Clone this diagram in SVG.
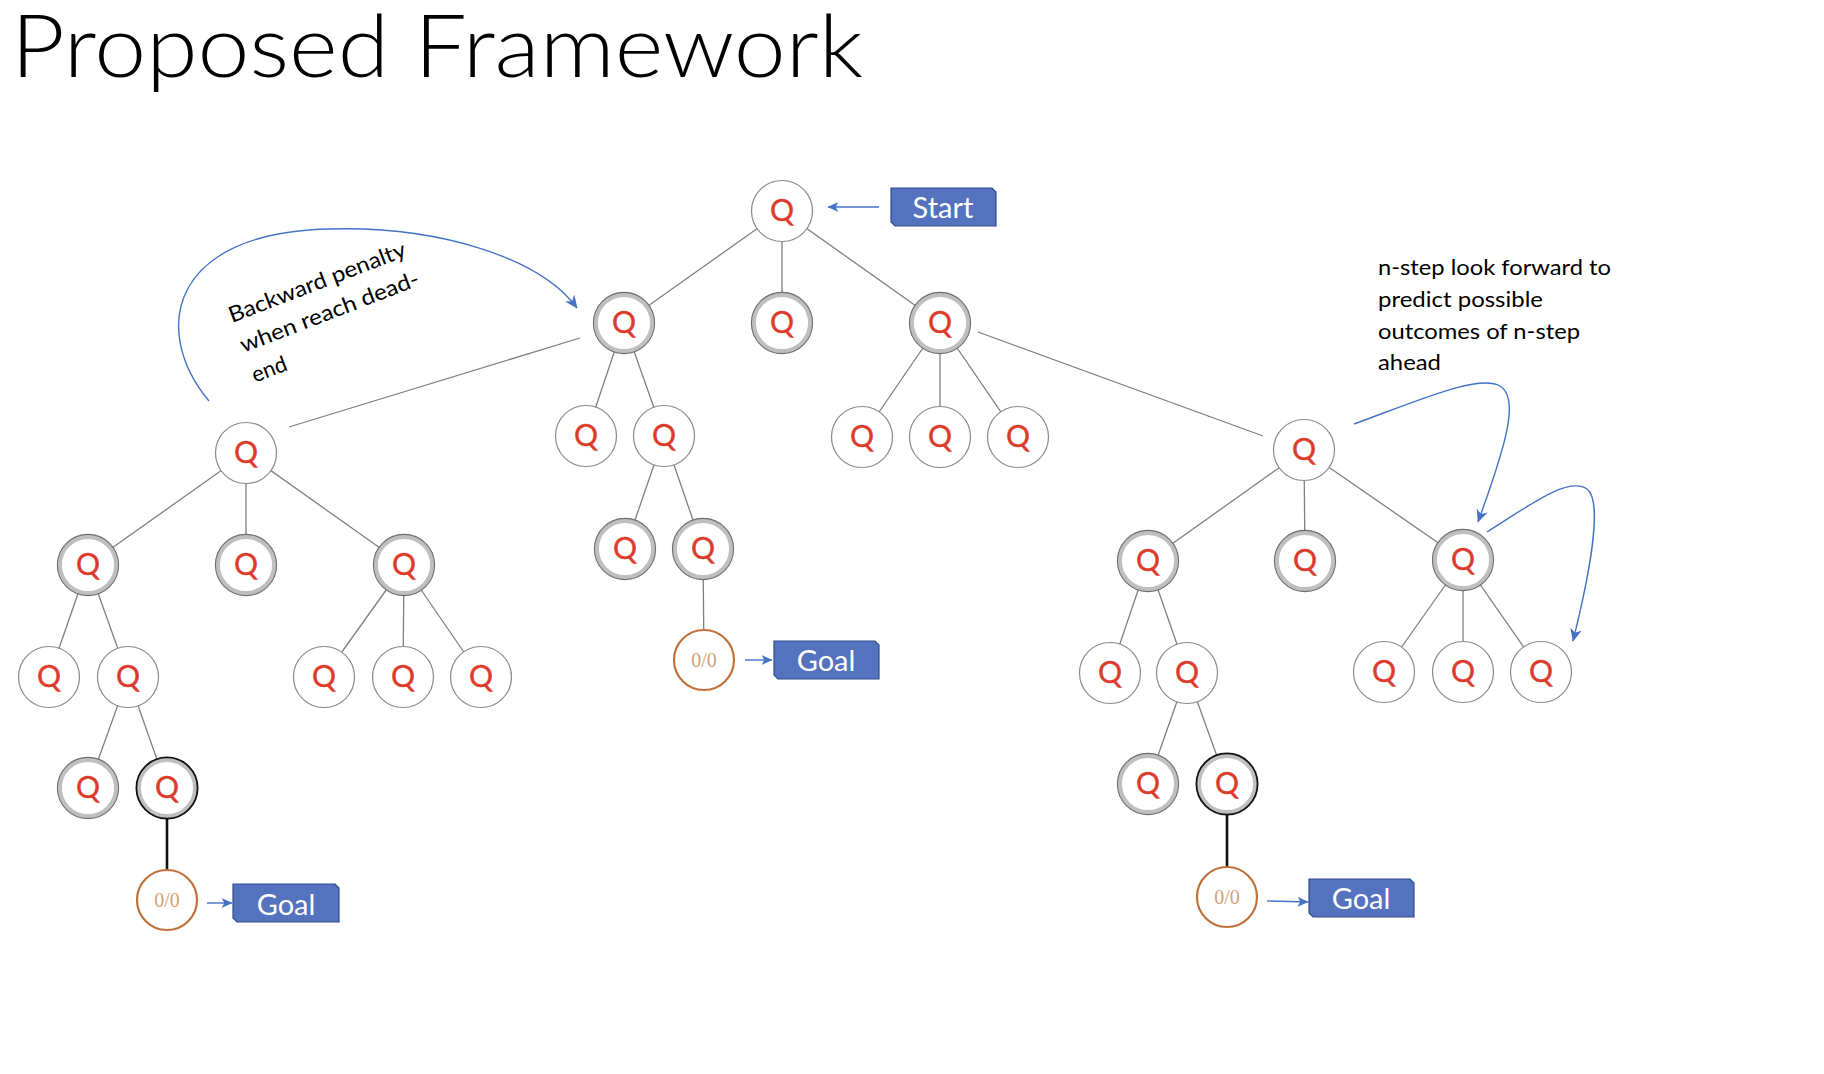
<svg xmlns="http://www.w3.org/2000/svg" width="1824" height="1074" viewBox="0 0 1824 1074">
<defs>
<style>
.edge{stroke:#7f7f7f;stroke-width:1.3;fill:none}
.bedge{stroke:#111;stroke-width:2.6;fill:none}
.blue{stroke:#4472c4;stroke-width:1.4;fill:none}
.plain{fill:#fff;stroke:#8a8a8a;stroke-width:1.2}
.band{fill:#fff;stroke:#bfbfbf;stroke-width:4.5}
.outer{fill:none;stroke:#6e6e6e;stroke-width:1.1}
.outerb{fill:none;stroke:#111;stroke-width:1.8}
.q{font-family:Lato,"Liberation Sans",sans-serif;font-size:30px;fill:#dc3b2c;text-anchor:middle;stroke:#dc3b2c;stroke-width:0.4}
.zc{fill:#fff;stroke:#c0703a;stroke-width:2.2}
.zt{font-family:"Liberation Serif",serif;font-size:20px;fill:#d2a07c;text-anchor:middle}
.box{fill:#5472be;stroke:#2f4d8c;stroke-width:1.2}
.bt{font-family:Lato,"Liberation Sans",sans-serif;font-size:29px;fill:#fff;text-anchor:middle}
.note{font-family:Lato,"Liberation Sans",sans-serif;font-size:22px;fill:#000}
</style>
<marker id="ah" viewBox="0 0 10 10" refX="9.5" refY="5" markerWidth="11" markerHeight="11" markerUnits="userSpaceOnUse" orient="auto">
<path d="M0,0.5 L10,5 L0,9.5 L2.5,5 Z" fill="#4472c4"/>
</marker>
<marker id="ah2" viewBox="0 0 10 10" refX="9.5" refY="5" markerWidth="13" markerHeight="13" markerUnits="userSpaceOnUse" orient="auto">
<path d="M0,0.5 L10,5 L0,9.5 L3,5 Z" fill="#4472c4"/>
</marker>
</defs>
<rect width="1824" height="1074" fill="#fff"/>
<text x="11" y="77" font-family="Lato,'Liberation Sans',sans-serif" font-weight="300" font-size="87" fill="#000" textLength="852" lengthAdjust="spacingAndGlyphs">Proposed Framework</text>

<g id="connectors">
<line class="edge" x1="782" y1="211" x2="624" y2="323"/>
<line class="edge" x1="782" y1="211" x2="782" y2="323"/>
<line class="edge" x1="782" y1="211" x2="940" y2="323"/>
<line class="edge" x1="624" y1="323" x2="586" y2="436"/>
<line class="edge" x1="624" y1="323" x2="664" y2="436"/>
<line class="edge" x1="664" y1="436" x2="625" y2="549"/>
<line class="edge" x1="664" y1="436" x2="703" y2="549"/>
<line class="edge" x1="703" y1="549" x2="704" y2="660"/>
<line class="edge" x1="940" y1="323" x2="862" y2="437"/>
<line class="edge" x1="940" y1="323" x2="940" y2="437"/>
<line class="edge" x1="940" y1="323" x2="1018" y2="437"/>
<line class="edge" x1="580" y1="338" x2="289" y2="427"/>
<line class="edge" x1="978" y1="332" x2="1263" y2="436"/>
<line class="edge" x1="246" y1="453" x2="88" y2="565"/>
<line class="edge" x1="246" y1="453" x2="246" y2="565"/>
<line class="edge" x1="246" y1="453" x2="404" y2="565"/>
<line class="edge" x1="88" y1="565" x2="49" y2="677"/>
<line class="edge" x1="88" y1="565" x2="128" y2="677"/>
<line class="edge" x1="128" y1="677" x2="88" y2="788"/>
<line class="edge" x1="128" y1="677" x2="167" y2="788"/>
<line class="bedge" x1="167" y1="788" x2="167" y2="900"/>
<line class="edge" x1="404" y1="565" x2="324" y2="677"/>
<line class="edge" x1="404" y1="565" x2="403" y2="677"/>
<line class="edge" x1="404" y1="565" x2="481" y2="677"/>
<line class="edge" x1="1304" y1="450" x2="1148" y2="561"/>
<line class="edge" x1="1304" y1="450" x2="1305" y2="561"/>
<line class="edge" x1="1304" y1="450" x2="1463" y2="560"/>
<line class="edge" x1="1148" y1="561" x2="1110" y2="673"/>
<line class="edge" x1="1148" y1="561" x2="1187" y2="673"/>
<line class="edge" x1="1187" y1="673" x2="1148" y2="784"/>
<line class="edge" x1="1187" y1="673" x2="1227" y2="784"/>
<line class="bedge" x1="1227" y1="784" x2="1227" y2="897"/>
<line class="edge" x1="1463" y1="560" x2="1384" y2="672"/>
<line class="edge" x1="1463" y1="560" x2="1463" y2="672"/>
<line class="edge" x1="1463" y1="560" x2="1541" y2="672"/>
<line class="blue" x1="879" y1="207" x2="828" y2="207" marker-end="url(#ah)"/>
<line class="blue" x1="745" y1="660" x2="772" y2="660" marker-end="url(#ah)"/>
<line class="blue" x1="207" y1="903" x2="232" y2="903" marker-end="url(#ah)"/>
<line class="blue" x1="1267" y1="901" x2="1308" y2="902" marker-end="url(#ah)"/>
<path class="blue" d="M209,401 C150,330 170,232 330,229 C440,226 540,258 577,308" marker-end="url(#ah2)"/>
<path class="blue" d="M1354,424 C1420,400 1478,374 1500,386 C1520,398 1506,445 1478,522" marker-end="url(#ah2)"/>
<path class="blue" d="M1487,532 C1530,505 1568,476 1587,489 C1602,500 1592,565 1573,641" marker-end="url(#ah2)"/>
</g>

<g id="root"><circle class="plain" cx="782" cy="211" r="30.5"/><text class="q" x="782" y="221">Q</text></g>
<g id="a"><circle class="band" cx="624" cy="323" r="28.3"/><circle class="outer" cx="624" cy="323" r="30.6"/><text class="q" x="624" y="333">Q</text></g>
<g id="b"><circle class="band" cx="782" cy="323" r="28.3"/><circle class="outer" cx="782" cy="323" r="30.6"/><text class="q" x="782" y="333">Q</text></g>
<g id="c"><circle class="band" cx="940" cy="323" r="28.3"/><circle class="outer" cx="940" cy="323" r="30.6"/><text class="q" x="940" y="333">Q</text></g>

<g id="a1"><circle class="plain" cx="586" cy="436" r="30.5"/><text class="q" x="586" y="446">Q</text></g>
<g id="a2"><circle class="plain" cx="664" cy="436" r="30.5"/><text class="q" x="664" y="446">Q</text></g>
<g id="a21"><circle class="band" cx="625" cy="549" r="28.3"/><circle class="outer" cx="625" cy="549" r="30.6"/><text class="q" x="625" y="559">Q</text></g>
<g id="a22"><circle class="band" cx="703" cy="549" r="28.3"/><circle class="outer" cx="703" cy="549" r="30.6"/><text class="q" x="703" y="559">Q</text></g>
<g id="goalnode-mid"><circle class="zc" cx="704" cy="660" r="30"/><text class="zt" x="704" y="667">0/0</text></g>
<g id="goal-mid"><path class="box" d="M774,641 H875 L879,645 V679 H778 L774,675 Z"/><text class="bt" x="826" y="671">Goal</text></g>

<g id="c1"><circle class="plain" cx="862" cy="437" r="30.5"/><text class="q" x="862" y="447">Q</text></g>
<g id="c2"><circle class="plain" cx="940" cy="437" r="30.5"/><text class="q" x="940" y="447">Q</text></g>
<g id="c3"><circle class="plain" cx="1018" cy="437" r="30.5"/><text class="q" x="1018" y="447">Q</text></g>

<g id="start"><path class="box" d="M891,188 H992 L996,192 V226 H895 L891,222 Z"/><text class="bt" x="943" y="218">Start</text></g>

<g id="l"><circle class="plain" cx="246" cy="453" r="30.5"/><text class="q" x="246" y="463">Q</text></g>
<g id="l1"><circle class="band" cx="88" cy="565" r="28.3"/><circle class="outer" cx="88" cy="565" r="30.6"/><text class="q" x="88" y="575">Q</text></g>
<g id="l2"><circle class="band" cx="246" cy="565" r="28.3"/><circle class="outer" cx="246" cy="565" r="30.6"/><text class="q" x="246" y="575">Q</text></g>
<g id="l3"><circle class="band" cx="404" cy="565" r="28.3"/><circle class="outer" cx="404" cy="565" r="30.6"/><text class="q" x="404" y="575">Q</text></g>
<g id="l11"><circle class="plain" cx="49" cy="677" r="30.5"/><text class="q" x="49" y="687">Q</text></g>
<g id="l12"><circle class="plain" cx="128" cy="677" r="30.5"/><text class="q" x="128" y="687">Q</text></g>
<g id="l121"><circle class="band" cx="88" cy="788" r="28.3"/><circle class="outer" cx="88" cy="788" r="30.6"/><text class="q" x="88" y="798">Q</text></g>
<g id="l122"><circle class="band" cx="167" cy="788" r="28.3"/><circle class="outerb" cx="167" cy="788" r="30.6"/><text class="q" x="167" y="798">Q</text></g>
<g id="goalnode-left"><circle class="zc" cx="167" cy="900" r="30"/><text class="zt" x="167" y="907">0/0</text></g>
<g id="goal-left"><path class="box" d="M233,884 H335 L339,888 V922 H237 L233,918 Z"/><text class="bt" x="286" y="915">Goal</text></g>
<g id="l31"><circle class="plain" cx="324" cy="677" r="30.5"/><text class="q" x="324" y="687">Q</text></g>
<g id="l32"><circle class="plain" cx="403" cy="677" r="30.5"/><text class="q" x="403" y="687">Q</text></g>
<g id="l33"><circle class="plain" cx="481" cy="677" r="30.5"/><text class="q" x="481" y="687">Q</text></g>

<g id="r"><circle class="plain" cx="1304" cy="450" r="30.5"/><text class="q" x="1304" y="460">Q</text></g>
<g id="r1"><circle class="band" cx="1148" cy="561" r="28.3"/><circle class="outer" cx="1148" cy="561" r="30.6"/><text class="q" x="1148" y="571">Q</text></g>
<g id="r2"><circle class="band" cx="1305" cy="561" r="28.3"/><circle class="outer" cx="1305" cy="561" r="30.6"/><text class="q" x="1305" y="571">Q</text></g>
<g id="r3"><circle class="band" cx="1463" cy="560" r="28.3"/><circle class="outer" cx="1463" cy="560" r="30.6"/><text class="q" x="1463" y="570">Q</text></g>
<g id="r11"><circle class="plain" cx="1110" cy="673" r="30.5"/><text class="q" x="1110" y="683">Q</text></g>
<g id="r12"><circle class="plain" cx="1187" cy="673" r="30.5"/><text class="q" x="1187" y="683">Q</text></g>
<g id="r121"><circle class="band" cx="1148" cy="784" r="28.3"/><circle class="outer" cx="1148" cy="784" r="30.6"/><text class="q" x="1148" y="794">Q</text></g>
<g id="r122"><circle class="band" cx="1227" cy="784" r="28.3"/><circle class="outerb" cx="1227" cy="784" r="30.6"/><text class="q" x="1227" y="794">Q</text></g>
<g id="goalnode-right"><circle class="zc" cx="1227" cy="897" r="30"/><text class="zt" x="1227" y="904">0/0</text></g>
<g id="goal-right"><path class="box" d="M1309,879 H1410 L1414,883 V917 H1313 L1309,913 Z"/><text class="bt" x="1361" y="909">Goal</text></g>
<g id="r31"><circle class="plain" cx="1384" cy="672" r="30.5"/><text class="q" x="1384" y="682">Q</text></g>
<g id="r32"><circle class="plain" cx="1463" cy="672" r="30.5"/><text class="q" x="1463" y="682">Q</text></g>
<g id="r33"><circle class="plain" cx="1541" cy="672" r="30.5"/><text class="q" x="1541" y="682">Q</text></g>

<g id="note-backward">
<text class="note" transform="translate(232,323) rotate(-21)"><tspan x="0" y="0" textLength="188" lengthAdjust="spacingAndGlyphs">Backward penalty</tspan><tspan x="0" y="32" textLength="190" lengthAdjust="spacingAndGlyphs">when reach dead-</tspan><tspan x="0" y="64">end</tspan></text>
</g>
<g id="note-nstep">
<text class="note"><tspan x="1378" y="275" textLength="233" lengthAdjust="spacingAndGlyphs">n-step look forward to</tspan><tspan x="1378" y="307" textLength="165" lengthAdjust="spacingAndGlyphs">predict possible</tspan><tspan x="1378" y="339" textLength="202" lengthAdjust="spacingAndGlyphs">outcomes of n-step</tspan><tspan x="1378" y="370" textLength="63" lengthAdjust="spacingAndGlyphs">ahead</tspan></text>
</g>
</svg>
